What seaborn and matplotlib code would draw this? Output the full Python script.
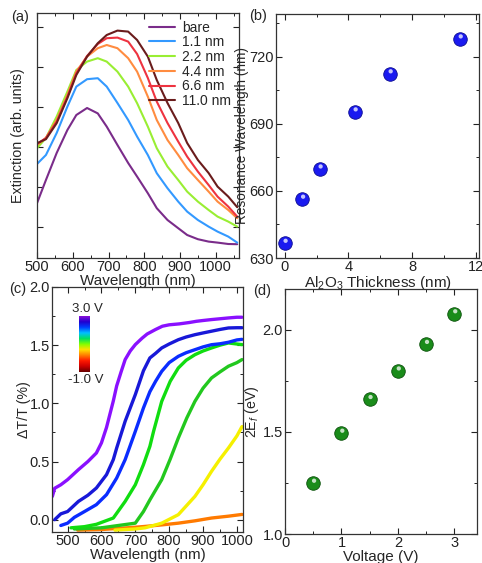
import numpy as np
import pandas as pd
import matplotlib
matplotlib.use("Agg")
import matplotlib.pyplot as plt
import matplotlib.transforms as mtransforms
from matplotlib.colors import LinearSegmentedColormap
from matplotlib.ticker import MultipleLocator, NullFormatter
import seaborn as sns

# ---- panel (a): extinction spectra for different Al2O3 thickness ----
wl_a = [500, 525, 555, 585, 610, 640, 670, 695, 725, 755, 780,
        810, 835, 865, 895, 920, 950, 980, 1005, 1035, 1060]
thick_labels = ["bare", "1.1 nm", "2.2 nm", "4.4 nm", "6.6 nm", "11.0 nm"]
ext_bare = [0.319, 0.435, 0.570, 0.685, 0.760, 0.795, 0.768, 0.702, 0.610, 0.520, 0.452,
            0.369, 0.294, 0.235, 0.194, 0.160, 0.139, 0.127, 0.122, 0.115, 0.114]
ext_11 = [0.515, 0.560, 0.670, 0.802, 0.902, 0.939, 0.944, 0.902, 0.820, 0.735, 0.652,
          0.560, 0.469, 0.394, 0.327, 0.277, 0.235, 0.202, 0.177, 0.152, 0.122]
ext_22 = [0.594, 0.645, 0.752, 0.877, 0.985, 1.027, 1.044, 1.027, 0.977, 0.902, 0.819,
          0.702, 0.594, 0.502, 0.435, 0.377, 0.327, 0.285, 0.252, 0.227, 0.202]
ext_44 = [0.610, 0.645, 0.735, 0.860, 0.977, 1.052, 1.094, 1.110, 1.094, 1.044, 0.977,
          0.852, 0.735, 0.635, 0.560, 0.494, 0.435, 0.377, 0.327, 0.285, 0.244]
ext_66 = [0.615, 0.645, 0.727, 0.852, 0.969, 1.055, 1.115, 1.144, 1.147, 1.127, 1.065,
          0.945, 0.827, 0.720, 0.627, 0.552, 0.477, 0.410, 0.352, 0.302, 0.252]
ext_110 = [0.619, 0.639, 0.719, 0.844, 0.960, 1.052, 1.119, 1.160, 1.182, 1.177, 1.135,
           1.052, 0.935, 0.820, 0.720, 0.620, 0.535, 0.470, 0.402, 0.352, 0.299]

# ---- panel (b): resonance wavelength vs thickness ----
thickness = [0, 1.1, 2.2, 4.4, 6.6, 11.0]
res_wl = [636.7, 656.4, 669.9, 695.4, 712.4, 728.0]

# ---- panel (c): dT/T spectra at several gate voltages ----
wl_30 = [455, 462, 480, 500, 532, 560, 585, 600, 615, 635, 645, 658, 670, 685, 700, 720,
         735, 760, 780, 800, 830, 860, 880, 900, 925, 950, 975, 1000, 1015]
dt_30 = [0.20, 0.27, 0.30, 0.344, 0.43, 0.50, 0.573, 0.66, 0.793, 1.02, 1.15, 1.27, 1.376,
         1.45, 1.505, 1.56, 1.596, 1.635, 1.663, 1.675, 1.683, 1.695, 1.705, 1.712, 1.72,
         1.727, 1.734, 1.74, 1.74]
wl_25 = [462, 480, 500, 532, 560, 585, 615, 635, 645, 670, 700, 724, 743, 760, 778, 800,
         827, 850, 876, 900, 925, 950, 975, 1000, 1015]
dt_25 = [0.0, 0.05, 0.07, 0.157, 0.21, 0.272, 0.387, 0.516, 0.616, 0.846, 1.075, 1.28, 1.39,
         1.43, 1.476, 1.51, 1.547, 1.57, 1.59, 1.605, 1.62, 1.635, 1.648, 1.65, 1.65]
wl_20 = [480, 500, 520, 550, 585, 615, 645, 670, 700, 724, 743, 760, 778, 800, 827, 850,
         876, 900, 925, 950, 975, 1000, 1015]
dt_20 = [-0.05, -0.03, 0.02, 0.07, 0.129, 0.215, 0.358, 0.516, 0.759, 0.96, 1.10, 1.19,
         1.275, 1.35, 1.404, 1.435, 1.461, 1.485, 1.504, 1.512, 1.525, 1.545, 1.55]
wl_15 = [510, 550, 585, 635, 670, 700, 724, 743, 754, 778, 803, 827, 850, 876, 900, 925,
         950, 975, 1000, 1015]
dt_15 = [-0.07, -0.06, -0.04, 0.014, 0.157, 0.30, 0.473, 0.63, 0.76, 1.017, 1.189, 1.304,
         1.37, 1.418, 1.45, 1.476, 1.50, 1.519, 1.51, 1.505]
wl_10 = [520, 600, 650, 700, 724, 743, 778, 803, 827, 852, 876, 900, 925, 950, 975, 1000, 1015]
dt_10 = [-0.08, -0.07, -0.05, -0.03, 0.07, 0.17, 0.344, 0.52, 0.702, 0.874, 1.017, 1.13,
         1.218, 1.27, 1.319, 1.35, 1.376]
wl_05 = [640, 700, 729, 778, 827, 876, 900, 925, 950, 975, 1000, 1015]
dt_05 = [-0.09, -0.08, -0.07, -0.03, 0.043, 0.20, 0.30, 0.415, 0.52, 0.616, 0.72, 0.80]
wl_00 = [530, 600, 650, 700, 729, 778, 827, 876, 925, 975, 1015]
dt_00 = [-0.09, -0.085, -0.075, -0.065, -0.058, -0.045, -0.03, -0.01, 0.014, 0.03, 0.045]

# ---- panel (d): 2Ef vs voltage ----
voltage = [0.5, 1.0, 1.5, 2.0, 2.5, 3.0]
two_ef = [1.25, 1.495, 1.66, 1.80, 1.93, 2.08]

sns.set_theme(style="ticks")
plt.rcParams["font.family"] = ["Liberation Sans", "DejaVu Sans"]
plt.rcParams["mathtext.fontset"] = "custom"
plt.rcParams["mathtext.rm"] = "Liberation Sans"
plt.rcParams["mathtext.it"] = "Liberation Sans:italic"
plt.rcParams["mathtext.default"] = "regular"
plt.rcParams["axes.edgecolor"] = "#333333"
plt.rcParams["axes.linewidth"] = 0.9

fs_tick = 10.5
fs_xlab = 11
fs_ylab = 10.3

fig = plt.figure(figsize=(4.82, 5.63), dpi=100)
W, H = 482, 563


def place(l, t, r, b):
    return fig.add_axes([l / W, 1 - b / H, (r - l) / W, (b - t) / H])


def style_ticks(ax):
    ax.tick_params(which="both", direction="in", top=True, right=True,
                   labelsize=fs_tick, colors="#222222", pad=1.5)
    ax.tick_params(which="major", length=4, width=0.8)
    ax.tick_params(which="minor", length=2.2, width=0.7)


def sphere(ax, x, y, base, edge, size):
    sns.scatterplot(x=x, y=y, ax=ax, s=size, color=base, edgecolor=edge,
                    linewidth=0.6, zorder=3, legend=False)
    off = mtransforms.offset_copy(ax.transData, fig=fig, x=0.6, y=1.6, units="points")
    ax.scatter(x, y, s=size * 0.1, color="white", alpha=0.75, edgecolors="none",
               transform=off, zorder=4)


# (a)
ax_a = place(37, 13, 239, 258)
cols_a = ["#7a2c8a", "#3399ff", "#99ee33", "#ff8c40", "#ee3340", "#6a1c1c"]
for vals, lab, c in zip([ext_bare, ext_11, ext_22, ext_44, ext_66, ext_110],
                        thick_labels, cols_a):
    sns.lineplot(x=wl_a, y=vals, ax=ax_a, color=c, lw=1.5, label=lab,
                 estimator=None, sort=False)
ax_a.set_xlim(500, 1065)
ax_a.set_ylim(0.045, 1.27)
ax_a.xaxis.set_major_locator(MultipleLocator(100))
ax_a.xaxis.set_minor_locator(MultipleLocator(50))
ax_a.yaxis.set_major_locator(MultipleLocator(0.2))
ax_a.yaxis.set_major_formatter(NullFormatter())
style_ticks(ax_a)
ax_a.set_xlabel("Wavelength (nm)", fontsize=fs_xlab, labelpad=0)
ax_a.set_ylabel("Extinction (arb. units)", fontsize=fs_ylab, labelpad=7)
ax_a.legend(loc="upper right", frameon=False, fontsize=10, handlelength=1.9,
            labelspacing=0.05, borderaxespad=0.15, handletextpad=0.5)

# (b)
ax_b = place(276, 14, 479, 258)
sphere(ax_b, thickness, res_wl, "#1a1af0", "#0a0a90", 95)
ax_b.set_xlim(-0.55, 12.2)
ax_b.set_ylim(630, 739)
ax_b.xaxis.set_major_locator(MultipleLocator(4))
ax_b.xaxis.set_minor_locator(MultipleLocator(2))
ax_b.yaxis.set_major_locator(MultipleLocator(30))
ax_b.yaxis.set_minor_locator(MultipleLocator(15))
style_ticks(ax_b)
ax_b.set_xlabel("Al$_2$O$_3$ Thickness (nm)", fontsize=fs_xlab, labelpad=0)
ax_b.set_ylabel("Resonance Wavelength (nm)", fontsize=fs_ylab - 0.5, labelpad=0)

# (c)
ax_c = place(52, 287, 243, 532)
curves_c = [(wl_00, dt_00, "#ff7a00"), (wl_05, dt_05, "#f5f000"),
            (wl_10, dt_10, "#22c81e"), (wl_15, dt_15, "#10dd10"),
            (wl_20, dt_20, "#0a2cff"), (wl_25, dt_25, "#1818d8"),
            (wl_30, dt_30, "#8a10ff")]
for wl, dt, c in curves_c:
    sns.lineplot(x=wl, y=dt, ax=ax_c, color=c, lw=2.4, estimator=None, sort=False)
ax_c.set_xlim(454, 1018)
ax_c.set_ylim(-0.106, 2.0)
ax_c.xaxis.set_major_locator(MultipleLocator(100))
ax_c.xaxis.set_minor_locator(MultipleLocator(50))
ax_c.yaxis.set_major_locator(MultipleLocator(0.5))
ax_c.yaxis.set_minor_locator(MultipleLocator(0.25))
style_ticks(ax_c)
ax_c.set_xlabel("Wavelength (nm)", fontsize=fs_xlab, labelpad=0)
ax_c.set_ylabel("ΔT/T (%)", fontsize=fs_ylab, labelpad=-1)

# colour bar inset for gate voltage
rainbow = LinearSegmentedColormap.from_list(
    "gate", ["#6a0000", "#cc0000", "#ff1a00", "#ff8000", "#ffe000", "#80ff00",
             "#00e060", "#00c0ff", "#0040ff", "#2000d0", "#8a10d8"])
cax = fig.add_axes([79 / W, 1 - 372 / H, 10.5 / W, 56 / H])
cax.imshow(np.linspace(1, 0, 128).reshape(-1, 1), cmap=rainbow, aspect="auto")
cax.set_axis_off()
fig.text(87 / W, 1 - 309 / H, "3.0 V", ha="center", va="center", fontsize=9.5)
fig.text(86 / W, 1 - 380 / H, "-1.0 V", ha="center", va="center", fontsize=9.5)

# (d)
ax_d = place(285, 289, 477, 534)
sphere(ax_d, voltage, two_ef, "#1a8c1a", "#0b500b", 95)
ax_d.set_xlim(0, 3.4)
ax_d.set_ylim(1.0, 2.2)
ax_d.xaxis.set_major_locator(MultipleLocator(1))
ax_d.xaxis.set_minor_locator(MultipleLocator(0.5))
ax_d.yaxis.set_major_locator(MultipleLocator(0.5))
ax_d.yaxis.set_minor_locator(MultipleLocator(0.25))
style_ticks(ax_d)
ax_d.set_xlabel("Voltage (V)", fontsize=fs_xlab, labelpad=0)
ax_d.set_ylabel("2E$_{\\mathit{f}}$ (eV)", fontsize=fs_ylab, labelpad=1)

# panel letters
for lab, x, y in [("(a)", 20, 17), ("(b)", 258, 16), ("(c)", 18, 289), ("(d)", 262, 291)]:
    fig.text(x / W, 1 - y / H, lab, ha="center", va="center", fontsize=10.5)

fig.savefig("out.png", dpi=100)
